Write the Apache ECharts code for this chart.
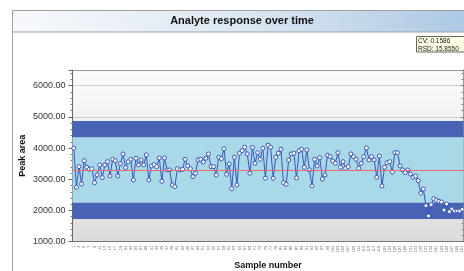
<!DOCTYPE html>
<html>
<head>
<meta charset="utf-8">
<script src="https://cdn.jsdelivr.net/npm/echarts@6/dist/echarts.min.js"></script>
<style>
	html, body { margin: 0; padding: 0; background: #fff; }
	#chart { width: 464px; height: 271px; }
</style>
</head>
<body>
<div id="chart"></div>
<script>
// peak area per sample
const peakArea = [
	3993, 2743, 3404, 2849, 3596, 3385, 3320, 3340, 2891, 3138,
	3458, 3051, 3458, 3564, 3106, 3641, 3596, 3106, 3500, 3811,
	3372, 3564, 3641, 2977, 3673, 3458, 3618, 3458, 3779, 2977,
	3426, 3468, 3405, 3683, 2936, 3683, 3298, 3298, 2817, 2763,
	3340, 3298, 3320, 3641, 3427, 3340, 3083, 3192, 3618, 3641,
	3554, 3673, 3811, 3405, 3405, 3138, 3705, 3660, 3981, 3160,
	3490, 2700, 3705, 2817, 3833, 3917, 4025, 3811, 3192, 4015,
	3512, 3855, 3641, 3993, 3032, 4090, 4025, 3032, 3705, 3833,
	3960, 2891, 2840, 3618, 3811, 3833, 3043, 3917, 3960, 3384,
	3939, 3298, 2785, 3641, 3426, 3692, 3010, 3138, 3769, 3724,
	3586, 3512, 3853, 3384, 3564, 3352, 3405, 3811, 3724, 3641,
	3352, 3512, 3724, 4003, 3618, 3724, 3618, 3064, 3747, 2785,
	3384, 3532, 3564, 3234, 3853, 3853, 3426, 3298, 3211, 3298,
	3170, 3064, 3106, 2955, 2551, 2689, 2154, 1824, 2186, 2378,
	2327, 2295, 2272, 2016, 2208, 1962, 2048, 1984, 1984, 1984,
	2038
]
const sampleNumbers = peakArea.map((v, i) => String(i + 1))

// mean and the 2 / 3 SD control limits
const meanValue = 3300
const controlLimits = [1730, 2253, 4347, 4870]
const statsLines = ['CV: 0.1586', 'RSD: 15.8550']

const chart = echarts.init(document.getElementById('chart'))

const darkBand = { color: '#4863b4', opacity: 1 }
const lightBand = { color: '#a9d9e8', opacity: 1 }

chart.setOption({
	animation: false,
	textStyle: { fontFamily: 'Liberation Sans, Arial, sans-serif' },
	graphic: [
		// outer panel + header strip
		{
			type: 'rect',
			shape: { x: 12.5, y: 10.5, width: 470, height: 280 },
			style: { fill: '#fff', stroke: '#a0a0a0', lineWidth: 1 },
			z: -10
		},
		{
			type: 'rect',
			shape: { x: 12.5, y: 10.5, width: 470, height: 21.5 },
			style: {
				fill: new echarts.graphic.LinearGradient(0, 0, 1, 0, [
					{ offset: 0, color: '#f7f9fc' },
					{ offset: 0.5, color: '#dbe7f2' },
					{ offset: 1, color: '#a9c6e2' }
				]),
				stroke: '#a0a0a0',
				lineWidth: 1
			},
			z: -9
		},
		{
			type: 'text',
			x: 242,
			y: 21,
			style: {
				text: 'Analyte response over time',
				fill: '#111',
				font: 'bold 11px "Liberation Sans", Arial, sans-serif',
				textAlign: 'center',
				textVerticalAlign: 'middle'
			}
		},
		// CV / RSD box
		{
			type: 'rect',
			shape: { x: 416.5, y: 36.5, width: 60, height: 15.5 },
			style: { fill: '#fdfde4', stroke: '#666', lineWidth: 1 },
			z: 5
		},
		{
			type: 'text',
			x: 418,
			y: 37.5,
			style: {
				text: statsLines.join('\n'),
				fill: '#222',
				font: '6.5px "Liberation Sans", Arial, sans-serif',
				lineHeight: 7.5
			},
			z: 6
		}
	],
	grid: {
		left: 72.5,
		top: 70,
		width: 391,
		height: 171.7,
		outerBoundsMode: 'none',
		containLabel: false,
		show: true,
		borderWidth: 0,
		backgroundColor: new echarts.graphic.LinearGradient(0, 0, 0, 1, [
			{ offset: 0, color: '#fbfbfb' },
			{ offset: 1, color: '#dcdcdc' }
		])
	},
	xAxis: [
		{
			type: 'category',
			data: sampleNumbers,
			name: 'Sample number',
			nameLocation: 'middle',
			nameGap: 19,
			nameMoveOverlap: false,
			nameTextStyle: { fontWeight: 'bold', fontSize: 9, color: '#111' },
			axisLine: { lineStyle: { color: '#777' } },
			axisTick: { interval: 0, length: 2, lineStyle: { color: '#888' } },
			axisLabel: {
				interval: 1,
				rotate: 90,
				fontSize: 4,
				color: '#666',
				margin: 4
			}
		},
		{
			type: 'category',
			position: 'top',
			data: sampleNumbers,
			axisLine: { lineStyle: { color: '#999' } },
			axisTick: { inside: true, interval: 0, length: 2, lineStyle: { color: '#999' } },
			axisLabel: { show: false }
		}
	],
	yAxis: [
		{
			type: 'value',
			min: 1000,
			max: 6500,
			interval: 1000,
			name: 'Peak area',
			nameLocation: 'middle',
			nameGap: 45,
			nameMoveOverlap: false,
			nameTextStyle: { fontWeight: 'bold', fontSize: 9, color: '#111' },
			axisLine: { show: true, lineStyle: { color: '#666' } },
			axisTick: { show: true, length: 4, lineStyle: { color: '#666' } },
			minorTick: { show: true, splitNumber: 5, length: 2, lineStyle: { color: '#777' } },
			axisLabel: {
				showMaxLabel: false,
				fontSize: 9,
				color: '#333',
				margin: 7,
				formatter: (v) => v.toFixed(2)
			},
			splitLine: { show: true, lineStyle: { color: '#aaa', type: 'dotted' } }
		},
		{
			type: 'value',
			position: 'right',
			min: 1000,
			max: 6500,
			interval: 1000,
			axisLine: { show: true, lineStyle: { color: '#999' } },
			axisTick: { show: true, inside: true, length: 3, lineStyle: { color: '#777' } },
			minorTick: { show: true, splitNumber: 5, length: 2, lineStyle: { color: '#888' } },
			axisLabel: { show: false },
			splitLine: { show: false }
		}
	],
	series: [
		{
			// control bands behind the data
			type: 'line',
			data: [],
			z: 1,
			silent: true,
			markArea: {
				silent: true,
				data: [
					[{ yAxis: controlLimits[0], itemStyle: darkBand }, { yAxis: controlLimits[1] }],
					[{ yAxis: controlLimits[1], itemStyle: lightBand }, { yAxis: controlLimits[2] }],
					[{ yAxis: controlLimits[2], itemStyle: darkBand }, { yAxis: controlLimits[3] }]
				]
			}
		},
		{
			// mean line
			type: 'line',
			data: [],
			z: 2,
			silent: true,
			markLine: {
				silent: true,
				symbol: 'none',
				label: { show: false },
				lineStyle: { color: '#e86a6a', width: 1, type: 'solid', opacity: 1 },
				data: [{ yAxis: meanValue }]
			}
		},
		{
			name: 'Peak area',
			type: 'line',
			data: peakArea,
			z: 3,
			symbol: 'circle',
			symbolSize: 4,
			showAllSymbol: true,
			lineStyle: { color: '#3b55b8', width: 1 },
			itemStyle: { color: '#fff', borderColor: '#3b55b8', borderWidth: 1 }
		}
	]
})
</script>
</body>
</html>
